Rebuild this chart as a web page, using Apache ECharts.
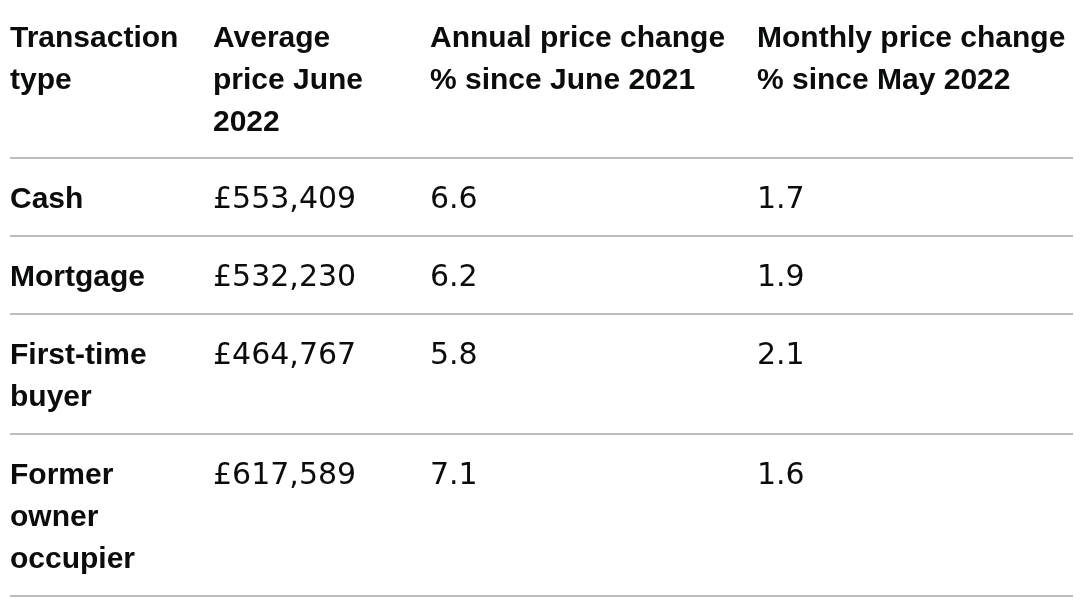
<!DOCTYPE html>
<html>
<head>
<meta charset="utf-8">
<script src="https://cdn.jsdelivr.net/npm/echarts@6/dist/echarts.min.js"></script>
<style>
  html, body { margin: 0; padding: 0; background: #ffffff; }
  #chart { width: 1080px; height: 613px; }
</style>
</head>
<body>
<div id="chart"></div>
<script>
// ---- data ----
const headers = [
  'Transaction\ntype',
  'Average\nprice June\n2022',
  'Annual price change\n% since June 2021',
  'Monthly price change\n% since May 2022'
];
const categories = ['Cash', 'Mortgage', 'First-time\nbuyer', 'Former\nowner\noccupier'];
const averagePrice = [553409, 532230, 464767, 617589];
const annualChange = [6.6, 6.2, 5.8, 7.1];
const monthlyChange = [1.7, 1.9, 2.1, 1.6];

// ---- layout ----
const W = 1080, H = 613;
const colX = [10, 213, 430, 757];
const lineLeft = 10, lineRight = 1073;
const lineH = 42;
const textColor = '#0b0c0c';
const ruleColor = '#bcbcbc';
const boldFont = '"Liberation Sans", Arial, sans-serif';
const valueFont = '"DejaVu Sans", sans-serif';

function nLines(s) { return s.split('\n').length; }
function fmtPrice(v) { return '\u00a3' + v.toLocaleString('en-GB'); }
function fmt1(v) { return v.toFixed(1); }

// row geometry (in axis units = pixels)
const rows = [];
let y = 0;
rows.push({ top: y, textTop: 18, bottom: 158, header: true });
y = 158;
categories.forEach(function (c, i) {
  const h = 36 + nLines(c) * lineH;
  rows.push({ top: y, textTop: y + 21, bottom: y + h, header: false, idx: i });
  y += h;
});

const chart = echarts.init(document.getElementById('chart'), null, { renderer: 'canvas' });

function textEl(x, yTop, str, bold, api) {
  const p = api.coord([x, yTop]);
  return {
    type: 'text',
    style: {
      text: str,
      x: p[0],
      y: p[1],
      fill: textColor,
      fontSize: 30,
      fontWeight: bold ? 'bold' : 'normal',
      fontFamily: bold ? boldFont : valueFont,
      lineHeight: lineH,
      align: 'left',
      verticalAlign: 'top'
    }
  };
}

const option = {
  backgroundColor: '#ffffff',
  animation: false,
  grid: { left: 0, right: 0, top: 0, bottom: 0 },
  xAxis: { type: 'value', min: 0, max: W, show: false },
  yAxis: { type: 'value', min: 0, max: H, inverse: true, show: false },
  series: [{
    type: 'custom',
    coordinateSystem: 'cartesian2d',
    data: rows.map(function (r, i) { return [i, r.top]; }),
    renderItem: function (params, api) {
      const r = rows[params.dataIndex];
      const children = [];
      let cells;
      if (r.header) {
        cells = headers.map(function (h) { return [h, true]; });
      } else {
        const i = r.idx;
        cells = [
          [categories[i], true],
          [fmtPrice(averagePrice[i]), false],
          [fmt1(annualChange[i]), false],
          [fmt1(monthlyChange[i]), false]
        ];
      }
      cells.forEach(function (c, k) {
        children.push(textEl(colX[k], r.textTop, c[0], c[1], api));
      });
      const a = api.coord([lineLeft, r.bottom]);
      const b = api.coord([lineRight, r.bottom]);
      children.push({
        type: 'line',
        shape: { x1: a[0], y1: a[1], x2: b[0], y2: b[1] },
        style: { stroke: ruleColor, lineWidth: 2 }
      });
      return { type: 'group', children: children };
    }
  }]
};
chart.setOption(option);
</script>
</body>
</html>
